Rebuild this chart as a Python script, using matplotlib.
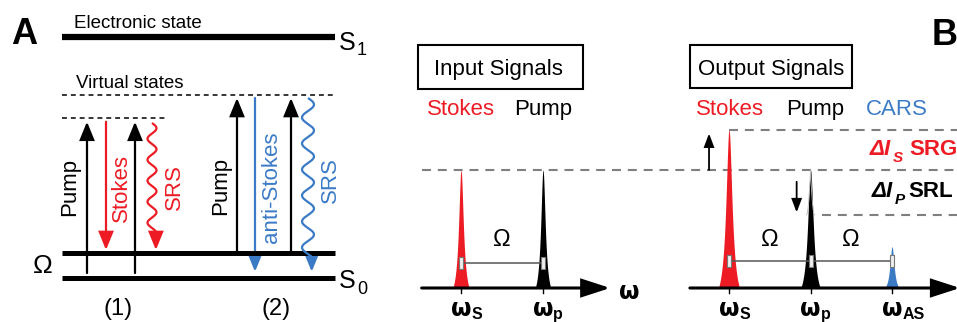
import numpy as np
import matplotlib.pyplot as plt
from matplotlib.patches import FancyArrowPatch, Rectangle

plt.rcParams['font.family'] = ['Liberation Sans', 'DejaVu Sans']

W, H = 957, 322
RED = '#ED1C24'
BLUE = '#3B7BC6'
GRAY = '#7F7F7F'

# Panel A: energy levels in units of the vibrational quantum
e_s0 = 0.0
e_vib = 1.0
e_virt_stokes = 6.4
e_virt_as = 7.3
e_s1 = 9.64

# Panel B: peaks, frequency in units of Omega, intensity relative to input
in_labels = ['Stokes', 'Pump']
in_colors = [RED, 'black']
in_freq = [0, 1]
in_height = [1.0, 1.0]
in_width = [0.1, 0.095]
in_subs = ['S', 'p']

out_labels = ['Stokes', 'Pump', 'CARS']
out_colors = [RED, 'black', BLUE]
out_freq = [0, 1, 2]
out_height = [1.34, 1.0, 0.35]
out_width = [0.13, 0.12, 0.09]
out_subs = ['S', 'p', 'AS']
srl_level = 0.62

fig = plt.figure(figsize=(W / 100, H / 100), dpi=100)

# small end cap used on the Omega brackets
CAP = [(-0.7, -2.5), (0.7, -2.5), (0.7, 2.5), (-0.7, 2.5), (-0.7, -2.5)]


def overlay(x0, sx, y0, sy):
    # full-figure axes; x0,y0 = pixel origin, sx,sy = pixels per unit
    ax = fig.add_axes([0, 0, 1, 1])
    ax.set_xlim(-x0 / sx, (W - x0) / sx)
    ax.set_ylim((y0 - H) / sy, y0 / sy)
    ax.axis('off')
    return ax


def arrow(ax, p0, p1, color, lw=1.6, hl=11, hw=4.5):
    ax.add_patch(FancyArrowPatch(p0, p1, arrowstyle=f'-|>,head_length={hl},head_width={hw}',
                                 mutation_scale=1, color=color, lw=lw,
                                 shrinkA=0, shrinkB=0, joinstyle='miter'))


def wavy(ax, xc, e0, e1, amp, period, color):
    y = np.linspace(e0, e1 + 0.6, 300)
    x = xc + amp * np.sin(2 * np.pi * (e0 - y) * 25 / period)
    ax.plot(x, y, color=color, lw=1.6, solid_capstyle='butt')
    arrow(ax, (x[-1], y[-1]), (x[-1], e1), color)


def peak(ax, f0, h, hw, color):
    x = np.linspace(-hw, hw, 301)
    g = 1 / (1 + (x / (0.35 * hw)) ** 2)
    g = (g - g[0]) / (g.max() - g[0])
    ax.fill_between(f0 + x, 0, h * g, color=color, lw=0)


def omega_label(ax, f, sub):
    ax.annotate('ω', xy=(f, 0), xytext=(0, -15), textcoords='offset points',
                fontsize=17, fontweight='bold', ha='center', va='center', family='DejaVu Sans')
    ax.annotate(sub, xy=(f, 0), xytext=(7.5, -19), textcoords='offset points',
                fontsize=11.5, fontweight='bold', ha='left', va='center')


# pixel axes for labels
ax_px = fig.add_axes([0, 0, 1, 1])
ax_px.set_xlim(0, W)
ax_px.set_ylim(H, 0)
ax_px.axis('off')

# ---------------- Panel A ----------------
ax_a = overlay(0, 1, 278, 25)
for e, lw in [(e_s1, 4.5), (e_vib, 3.6), (e_s0, 3.6)]:
    ax_a.plot([62, 335], [e, e], color='black', lw=lw, solid_capstyle='butt')
ax_a.plot([62, 335], [e_virt_as, e_virt_as], color='black', lw=1.1, ls=(0, (3.2, 2.6)))
ax_a.plot([62, 167], [e_virt_stokes, e_virt_stokes], color='black', lw=1.1, ls=(0, (3.2, 2.6)))

# (1) SRS
for x in [87, 135]:
    arrow(ax_a, (x, e_s0 + 0.2), (x, e_virt_stokes - 0.15), 'black')
arrow(ax_a, (106, e_virt_stokes - 0.15), (106, e_vib + 0.12), RED)
wavy(ax_a, 152, e_virt_stokes - 0.2, e_vib + 0.12, 4.5, 21, RED)

# (2) anti-Stokes SRS
for x in [237, 291]:
    arrow(ax_a, (x, e_vib), (x, e_virt_as - 0.1), 'black')
arrow(ax_a, (255, e_virt_as - 0.1), (255, e_s0 + 0.25), BLUE)
wavy(ax_a, 308, e_virt_as - 0.1, e_s0 + 0.25, 6, 26, BLUE)

ax_px.text(24, 44, 'A', fontsize=26, fontweight='bold', ha='center', va='baseline')
ax_px.text(138, 28, 'Electronic state', fontsize=13.5, ha='center', va='baseline')
ax_px.text(130, 88, 'Virtual states', fontsize=13.5, ha='center', va='baseline')
ax_px.text(339, 50, 'S', fontsize=18, va='baseline')
ax_px.text(357, 55, '1', fontsize=13, va='baseline')
ax_px.text(339, 288, 'S', fontsize=18, va='baseline')
ax_px.text(357, 294, '0', fontsize=13, va='baseline')
ax_px.text(43, 273, 'Ω', fontsize=19, ha='center', va='baseline')
ax_px.text(118, 309, '(1)', fontsize=17, ha='center', va='center')
ax_px.text(276, 309, '(2)', fontsize=17, ha='center', va='center')

for x, y, s, c in [(70, 187, 'Pump', 'black'), (121, 188, 'Stokes', RED),
                   (174, 187, 'SRS', RED), (221, 186, 'Pump', 'black'),
                   (272, 187, 'anti-Stokes', BLUE), (330, 180, 'SRS', BLUE)]:
    ax_px.text(x, y, s, color=c, fontsize=16, rotation=90, ha='center', va='center')

# ---------------- Panel B: input ----------------
ax_in = overlay(461, 82, 288, 118)
for f, h, w, c in zip(in_freq, in_height, in_width, in_colors):
    peak(ax_in, f, h, w, c)
    ax_in.plot([f, f], [0, -0.045], color='black', lw=1)
arrow(ax_in, (-0.48, 0), (1.82, 0), 'black', lw=2.2, hl=17, hw=5.5)
ax_in.plot([-0.48, (W - 461) / 82], [in_height[1]] * 2, color=GRAY, lw=1.5,
           ls=(0, (4.3, 3.3)))
ax_in.plot(in_freq, [0.21, 0.21], color='#555555', lw=1.1, marker=CAP, ms=8,
           mfc='#eeeeee', mec='#777777', mew=0.8)
ax_in.text(0.5, 0.41, 'Ω', fontsize=17, ha='center', va='center')
ax_in.annotate('ω', xy=(2.05, 0), xytext=(0, -3), textcoords='offset points',
               fontsize=17, fontweight='bold', ha='center', va='center', family='DejaVu Sans')
for f, s in zip(in_freq, in_subs):
    omega_label(ax_in, f, s)

ax_px.add_patch(Rectangle((418, 45), 165, 44, fill=False, lw=1.5, ec='black'))
ax_px.text(498, 75, 'Input Signals', fontsize=16, ha='center', va='baseline')
for f, s, c in zip(in_freq, in_labels, in_colors):
    ax_px.text(461 + 82 * f, 115, s, color=c, fontsize=16, ha='center', va='baseline')

# ---------------- Panel B: output ----------------
ax_out = overlay(729, 81.5, 288, 118)
for f, h, w, c in zip(out_freq, out_height, out_width, out_colors):
    peak(ax_out, f, h, w, c)
    ax_out.plot([f, f], [0, -0.045], color='black', lw=1)
# depleted pump level outline
peak_x = np.linspace(-0.05, 0.05, 101)
ax_out.plot(1 + peak_x, srl_level + (1 - srl_level) * (1 - np.abs(peak_x) / 0.05) ** 2,
            color='#bbbbbb', lw=0.6)
arrow(ax_out, (-0.48, 0), ((W + 3 - 729) / 81.5, 0), 'black', lw=2.2, hl=17, hw=5.5)
xe = (W - 729) / 81.5
ax_out.plot([0, xe], [out_height[0]] * 2, color=GRAY, lw=1.5, ls=(0, (4.3, 3.3)))
ax_out.plot([1.14, xe], [srl_level] * 2, color=GRAY, lw=1.5, ls=(0, (4.3, 3.3)))
arrow(ax_out, (-0.245, out_height[1]), (-0.245, 1.31), 'black', lw=1.3, hl=8, hw=3)
arrow(ax_out, (0.83, 0.9), (0.83, srl_level + 0.02), 'black', lw=1.3, hl=8, hw=3)
ax_out.plot(out_freq, [0.23] * 3, color='#555555', lw=1.1, marker=CAP, ms=8,
            mfc='#eeeeee', mec='#777777', mew=0.8)
for fm in [0.5, 1.5]:
    ax_out.text(fm, 0.41, 'Ω', fontsize=17, ha='center', va='center')
for f, s in zip(out_freq, out_subs):
    omega_label(ax_out, f, s)

ax_px.add_patch(Rectangle((690, 45), 162, 43, fill=False, lw=1.5, ec='black'))
ax_px.text(771, 75, 'Output Signals', fontsize=16, ha='center', va='baseline')
for x, s, c in zip([730, 815, 897], out_labels, out_colors):
    ax_px.text(x, 115, s, color=c, fontsize=16, ha='center', va='baseline')

ax_px.text(870, 155, 'ΔI', color=RED, fontsize=16, fontweight='bold', style='italic', va='baseline')
ax_px.text(893, 162, 'S', color=RED, fontsize=11, fontweight='bold', style='italic', va='baseline')
ax_px.text(909, 155, 'SRG', color=RED, fontsize=16, fontweight='bold', va='baseline')
ax_px.text(872, 197, 'ΔI', color='black', fontsize=16, fontweight='bold', style='italic', va='baseline')
ax_px.text(895, 204, 'P', color='black', fontsize=11, fontweight='bold', style='italic', va='baseline')
ax_px.text(908, 197, 'SRL', color='black', fontsize=16, fontweight='bold', va='baseline')
ax_px.text(932, 45, 'B', fontsize=26, fontweight='bold', va='baseline')

fig.savefig('out.png', dpi=100)
